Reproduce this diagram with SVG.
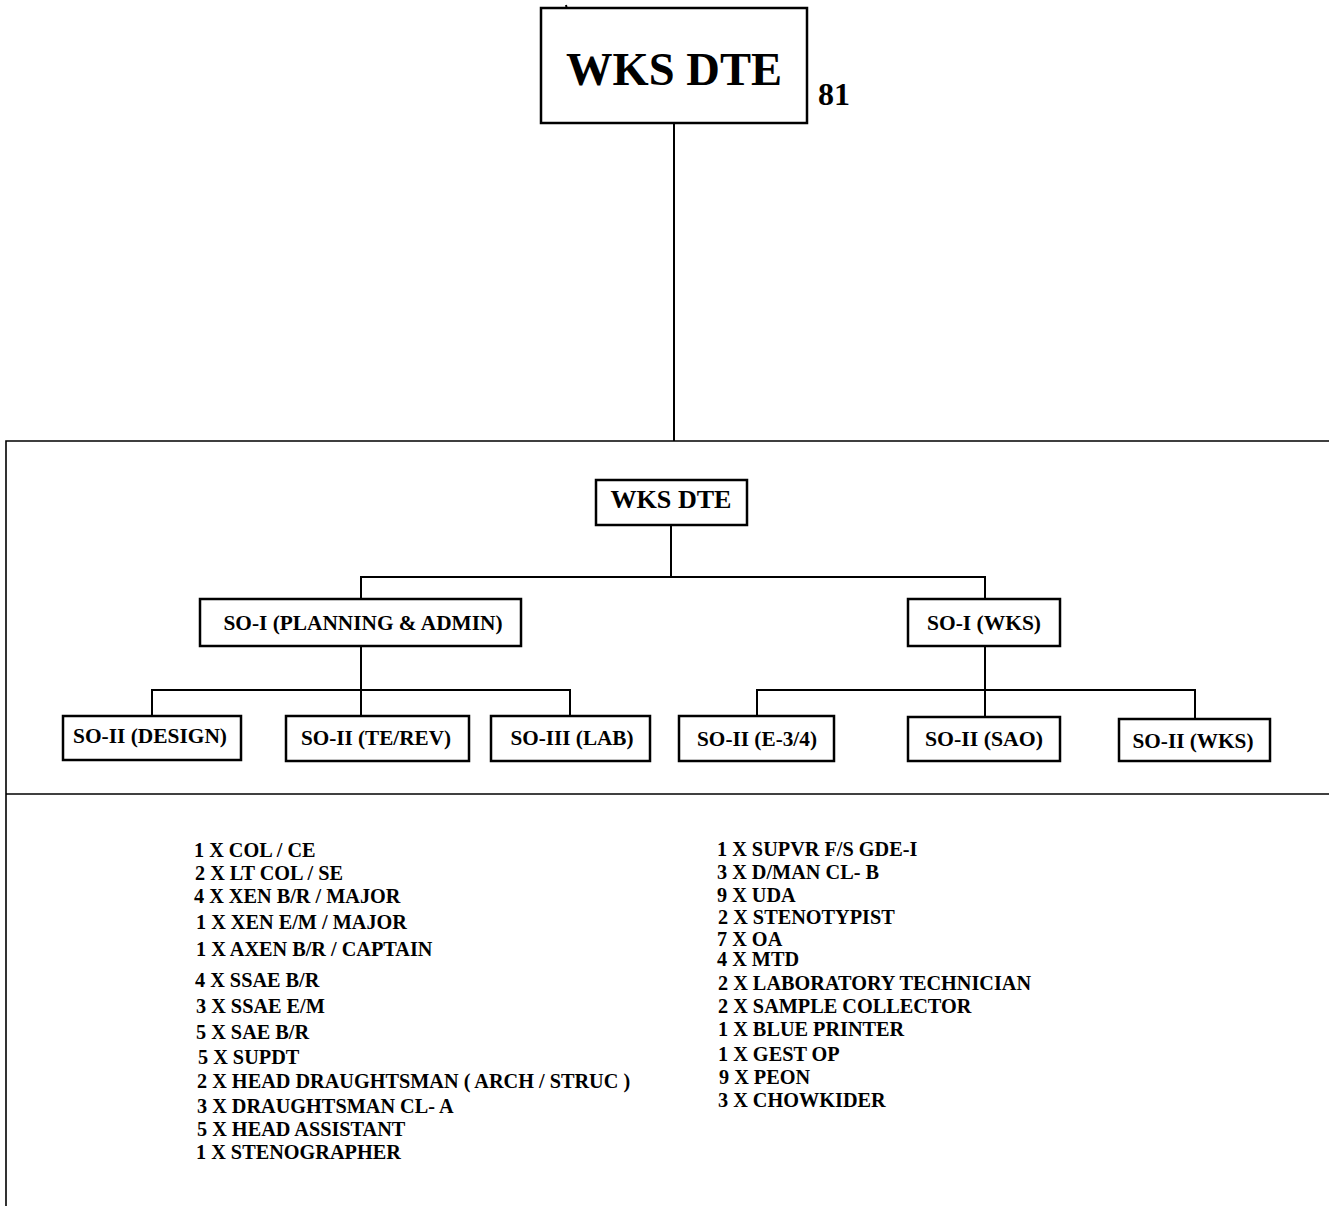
<svg xmlns="http://www.w3.org/2000/svg" width="1329" height="1206" viewBox="0 0 1329 1206">
<style>
  .bg { fill: #ffffff; }
  .box { fill: #ffffff; stroke: #000000; stroke-width: 2.5; }
  .frame { fill: none; stroke: #000000; stroke-width: 1.6; }
  .conn { fill: none; stroke: #000000; stroke-width: 2; }
  text { font-family: "Liberation Serif", "Times New Roman", serif; font-weight: bold; fill: #000000; }
  .node { font-size: 22px; text-anchor: middle; }
  .list { font-size: 20.25px; }
</style>
<rect class="bg" x="0" y="0" width="1329" height="1206"/>

<g id="frame">
  <path class="frame" d="M6,1206 V441 H1329"/>
  <path class="frame" d="M6,794 H1329"/>
</g>

<g id="connectors">
  <path class="conn" d="M566,5 L567,10" stroke-width="1.2"/>
  <path class="conn" d="M674,123 V441" stroke-width="1.6"/>
  <path class="conn" d="M671,525 V577 M361,599 V577 H985 V599"/>
  <path class="conn" d="M361,646 V716 M152,716 V690 H570 V716"/>
  <path class="conn" d="M985,646 V717 M757,716 V690 H1195 V719"/>
</g>

<g id="top-wks-dte">
  <rect class="box" x="541" y="8" width="266" height="115"/>
  <text x="674" y="85" font-size="46" text-anchor="middle" textLength="216" lengthAdjust="spacingAndGlyphs">WKS DTE</text>
  <text x="818" y="105" font-size="32">81</text>
</g>

<g id="wks-dte">
  <rect class="box" x="596" y="480" width="151" height="45"/>
  <text x="671" y="508" font-size="26" text-anchor="middle" textLength="121" lengthAdjust="spacingAndGlyphs">WKS DTE</text>
</g>

<g id="so1-planning">
  <rect class="box" x="200" y="599" width="321" height="47"/>
  <text class="node" x="363" y="630" textLength="279" lengthAdjust="spacingAndGlyphs">SO-I (PLANNING &amp; ADMIN)</text>
</g>

<g id="so1-wks">
  <rect class="box" x="908" y="599" width="152" height="47"/>
  <text class="node" x="984" y="630" textLength="114" lengthAdjust="spacingAndGlyphs">SO-I (WKS)</text>
</g>

<g id="so2-design">
  <rect class="box" x="63" y="716" width="178" height="44"/>
  <text class="node" x="150" y="743" textLength="154" lengthAdjust="spacingAndGlyphs">SO-II (DESIGN)</text>
</g>

<g id="so2-terev">
  <rect class="box" x="286" y="716" width="183" height="45"/>
  <text class="node" x="376" y="745" textLength="150" lengthAdjust="spacingAndGlyphs">SO-II (TE/REV)</text>
</g>

<g id="so3-lab">
  <rect class="box" x="491" y="716" width="159" height="45"/>
  <text class="node" x="572" y="745" textLength="123" lengthAdjust="spacingAndGlyphs">SO-III (LAB)</text>
</g>

<g id="so2-e34">
  <rect class="box" x="679" y="716" width="155" height="45"/>
  <text class="node" x="757" y="746" textLength="120" lengthAdjust="spacingAndGlyphs">SO-II (E-3/4)</text>
</g>

<g id="so2-sao">
  <rect class="box" x="908" y="717" width="152" height="44"/>
  <text class="node" x="984" y="746" textLength="118" lengthAdjust="spacingAndGlyphs">SO-II (SAO)</text>
</g>

<g id="so2-wks">
  <rect class="box" x="1119" y="719" width="151" height="42"/>
  <text class="node" x="1193" y="748" textLength="121" lengthAdjust="spacingAndGlyphs">SO-II (WKS)</text>
</g>

<g id="list-left" class="list">
  <text class="list" x="194" y="857">1 X COL / CE</text>
  <text class="list" x="195" y="880">2 X LT COL / SE</text>
  <text class="list" x="194" y="903">4 X XEN B/R / MAJOR</text>
  <text class="list" x="196" y="929">1 X XEN E/M / MAJOR</text>
  <text class="list" x="196" y="956">1 X AXEN B/R / CAPTAIN</text>
  <text class="list" x="195" y="987">4 X SSAE B/R</text>
  <text class="list" x="196" y="1013">3 X SSAE E/M</text>
  <text class="list" x="196" y="1039">5 X SAE B/R</text>
  <text class="list" x="198" y="1064">5 X SUPDT</text>
  <text class="list" x="197" y="1088">2 X HEAD DRAUGHTSMAN ( ARCH / STRUC )</text>
  <text class="list" x="197" y="1113">3 X DRAUGHTSMAN CL- A</text>
  <text class="list" x="197" y="1136">5 X HEAD ASSISTANT</text>
  <text class="list" x="196" y="1159">1 X STENOGRAPHER</text>
</g>

<g id="list-right" class="list">
  <text class="list" x="717" y="856">1 X SUPVR F/S GDE-I</text>
  <text class="list" x="717" y="879">3 X D/MAN CL- B</text>
  <text class="list" x="717" y="902">9 X UDA</text>
  <text class="list" x="718" y="924">2 X STENOTYPIST</text>
  <text class="list" x="717" y="946">7 X OA</text>
  <text class="list" x="717" y="966">4 X MTD</text>
  <text class="list" x="718" y="990">2 X LABORATORY TECHNICIAN</text>
  <text class="list" x="718" y="1013">2 X SAMPLE COLLECTOR</text>
  <text class="list" x="718" y="1036">1 X BLUE PRINTER</text>
  <text class="list" x="718" y="1061">1 X GEST OP</text>
  <text class="list" x="719" y="1084">9 X PEON</text>
  <text class="list" x="718" y="1107">3 X CHOWKIDER</text>
</g>
</svg>
